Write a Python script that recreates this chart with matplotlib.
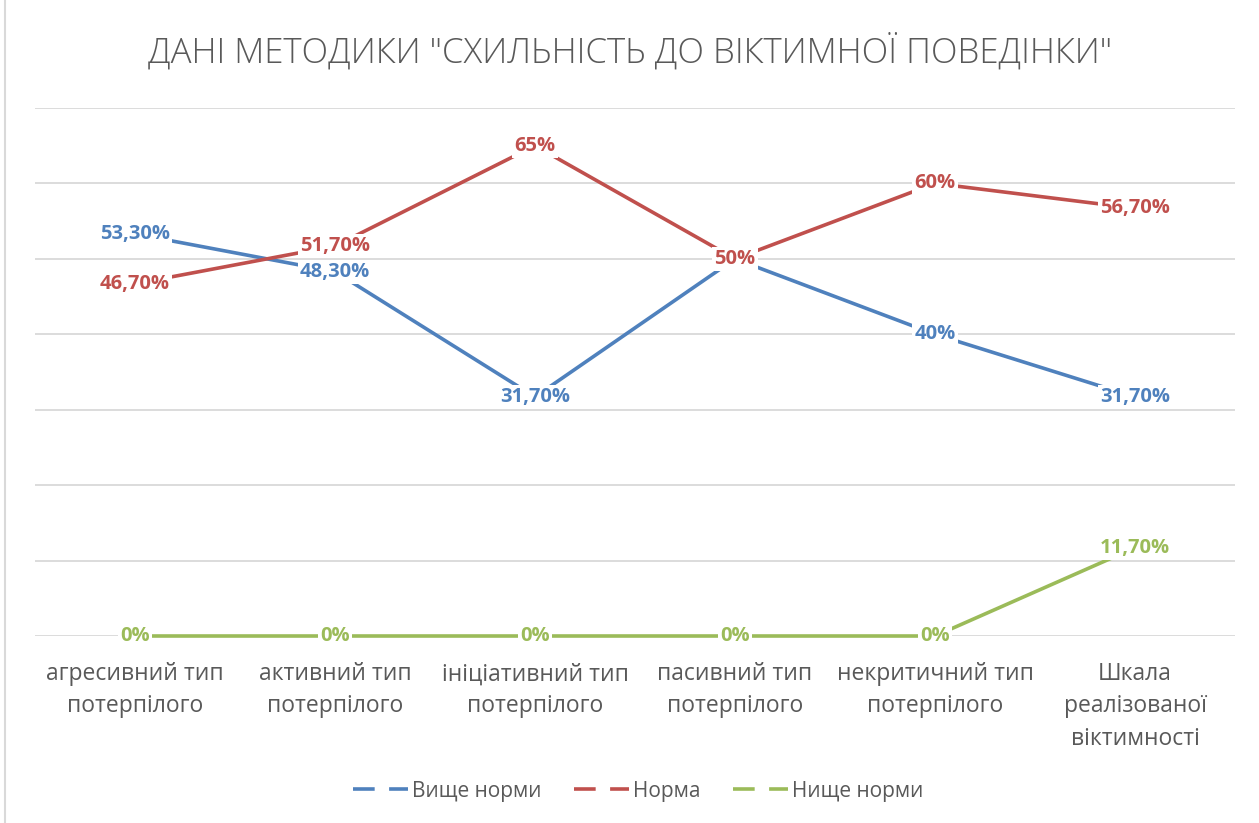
import matplotlib
matplotlib.use('Agg')
import matplotlib.pyplot as plt
from matplotlib.lines import Line2D

# Data
categories = ['агресивний тип\nпотерпілого', 'активний тип\nпотерпілого',
              'ініціативний тип\nпотерпілого', 'пасивний тип\nпотерпілого',
              'некритичний тип\nпотерпілого', 'Шкала\nреалізованої\nвіктимності']
above_norm = [53.3, 48.3, 31.7, 50, 40, 31.7]
norm = [46.7, 51.7, 65, 50, 60, 56.7]
below_norm = [0, 0, 0, 0, 0, 11.7]
series_names = ['Вище норми', 'Норма', 'Нище норми']

BLUE = '#4F81BD'
RED = '#C0504D'
GREEN = '#9BBB59'
GREY_TEXT = '#595959'
GRID = '#D9D9D9'

plt.rcParams['font.family'] = ['Open Sans', 'DejaVu Sans']


def fmt(v):
    if float(v).is_integer():
        return f'{int(v)}%'
    return f'{v:.2f}'.replace('.', ',') + '%'


fig = plt.figure(figsize=(12.59, 8.23), dpi=100)
ax = fig.add_axes([35 / 1259, 1 - 636 / 823, 1200 / 1259, 528 / 823])

x = list(range(len(categories)))
series = [above_norm, norm, below_norm]
colors = [BLUE, RED, GREEN]

for vals, col, name in zip(series, colors, series_names):
    ax.plot(x, vals, color=col, lw=2.6, label=name, zorder=3,
            solid_capstyle='butt', clip_on=False)

# data labels on top of all lines
for k, (vals, col) in enumerate(zip(series, colors)):
    for xi, v in zip(x, vals):
        ax.text(xi, v, fmt(v), color=col, fontsize=14.5, fontweight='bold',
                ha='center', va='center', zorder=5 + k,
                bbox=dict(facecolor='white', edgecolor='none', pad=1.5))

ax.set_xlim(-0.5, len(categories) - 0.5)
ax.set_ylim(0, 70)
ax.set_yticks(range(0, 71, 10))
ax.yaxis.grid(True, color=GRID, lw=1.3, zorder=0)
ax.set_axisbelow(True)
ax.tick_params(axis='y', left=False, labelleft=False)
ax.tick_params(axis='x', length=0, pad=19, labelsize=16.5, labelcolor=GREY_TEXT)
ax.set_xticks(x)
ax.set_xticklabels(categories, linespacing=1.45)
for s in ax.spines.values():
    s.set_visible(False)

fig.text(0.5, 1 - 52 / 823, 'ДАНІ МЕТОДИКИ "СХИЛЬНІСТЬ ДО ВІКТИМНОЇ ПОВЕДІНКИ"',
         ha='center', va='center', fontsize=25, color=GREY_TEXT, fontweight='light')

handles = [Line2D([0], [0], color=c, lw=2.6, dashes=(6, 4)) for c in colors]
fig.legend(handles, series_names, loc='center', bbox_to_anchor=(0.507, 1 - 791 / 823),
           ncol=3, frameon=False, fontsize=15, handlelength=2.65, handletextpad=0.2,
           columnspacing=1.55, labelcolor=GREY_TEXT)

# chart area left border
fig.add_artist(Line2D([5 / 1259, 5 / 1259], [0, 1], color=GRID, lw=1.5))

fig.savefig('out.png', dpi=100)
